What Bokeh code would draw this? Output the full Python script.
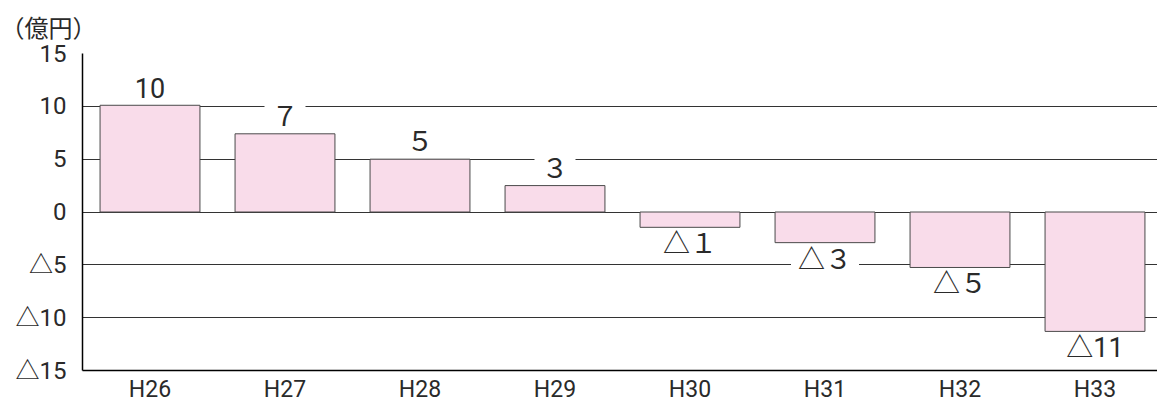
from bokeh.plotting import figure
from bokeh.models import Range1d, FixedTicker, Label
from bokeh.embed import file_html
from bokeh.resources import INLINE

# ---- data ----
years = ["H26", "H27", "H28", "H29", "H30", "H31", "H32", "H33"]
values = [10.1, 7.4, 5.0, 2.5, -1.45, -2.9, -5.25, -11.3]
value_labels = ["10", "７", "５", "３", "△１", "△３", "△５", "△11"]
y_ticks = [-15, -10, -5, 0, 5, 10, 15]
y_tick_labels = ["△15", "△10", "△5", "0", "5", "10", "15"]
unit_label = "（億円）"

AXFONT = "Roboto, 'Noto Sans CJK JP'"
TXT = "#2a2a2a"

W, H = 1157, 405
BL, BR, BT, BB = 82, 0, 53, 35
frame_w = W - BL - BR
frame_h = H - BT - BB
x_end = frame_w / 135.0          # 135 px per category slot
px_per_unit = frame_h / 30.0
label_off_px = 17

xs = [i + 0.5 for i in range(len(years))]

p = figure(width=W, height=H, output_backend="svg", toolbar_location=None,
           x_range=Range1d(0, x_end), y_range=Range1d(-15, 15),
           min_border_left=BL, min_border_right=BR, min_border_top=BT,
           min_border_bottom=BB)
p.outline_line_color = None
p.background_fill_color = "white"
p.border_fill_color = "white"

# white boxes behind value labels (they interrupt the grid lines)
box_y = [v + (label_off_px if v >= 0 else -label_off_px) / px_per_unit for v in values]
box_w = [sum(27 if ord(c) > 255 else 14 for c in t) + 14 for t in value_labels]
p.rect(x=xs, y=box_y, width=box_w, height=22, width_units="screen",
       height_units="screen", fill_color="white", line_color=None)

# bars
p.vbar(x=xs, top=values, bottom=0, width=0.74,
       fill_color="#F9DCEA", line_color="#4a4a4a", line_width=1)

# grid
p.xgrid.visible = False
p.ygrid.ticker = FixedTicker(ticks=y_ticks)
p.ygrid.grid_line_color = "#333333"
p.ygrid.grid_line_width = 1

# y axis
p.yaxis.ticker = FixedTicker(ticks=y_ticks)
p.yaxis.major_label_overrides = dict(zip(y_ticks, y_tick_labels))
p.yaxis.major_tick_in = 0
p.yaxis.major_tick_out = 0
p.yaxis.minor_tick_line_color = None
p.yaxis.axis_line_color = "black"
p.yaxis.axis_line_width = 1.5
p.yaxis.major_label_text_font = AXFONT
p.yaxis.major_label_text_font_size = "24px"
p.yaxis.major_label_text_color = TXT
p.yaxis.major_label_standoff = 16

# x axis
p.xaxis.ticker = FixedTicker(ticks=xs)
p.xaxis.major_label_overrides = dict(zip(xs, years))
p.xaxis.major_tick_in = 0
p.xaxis.major_tick_out = 0
p.xaxis.minor_tick_line_color = None
p.xaxis.axis_line_color = "black"
p.xaxis.axis_line_width = 1.5
p.xaxis.major_label_text_font = AXFONT
p.xaxis.major_label_text_font_size = "23px"
p.xaxis.major_label_text_color = TXT
p.xaxis.major_label_standoff = 5

# unit title
p.title.text = unit_label
p.title.align = "left"
p.title.offset = -BL
p.title.standoff = 21
p.title.text_font = AXFONT
p.title.text_font_size = "24px"
p.title.text_font_style = "normal"
p.title.text_color = TXT

# value labels
for x, v, t in zip(xs, values, value_labels):
    p.add_layout(Label(x=x, y=v, text=t, text_align="center",
                       text_baseline="middle",
                       y_offset=label_off_px if v >= 0 else -label_off_px,
                       text_font=AXFONT, text_font_size="27px",
                       text_color=TXT))

open("out.html", "w").write(file_html(p, INLINE))
